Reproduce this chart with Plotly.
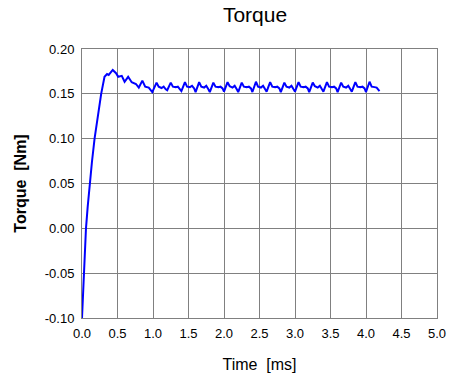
import plotly.graph_objects as go

time_ms = [
    0.000, 0.023, 0.056, 0.080, 0.107, 0.140, 0.177, 0.220, 0.270, 0.317, 0.353, 0.376,
    0.433, 0.48, 0.51, 0.56, 0.60, 0.65, 0.70, 0.76, 0.80, 0.85, 0.89, 0.94, 0.99,
    1.05, 1.08, 1.12, 1.15, 1.18, 1.20,
    1.25, 1.28, 1.32, 1.35, 1.38, 1.40,
    1.45, 1.48, 1.52, 1.55, 1.58, 1.60,
    1.65, 1.68, 1.72, 1.75, 1.78, 1.80,
    1.85, 1.88, 1.92, 1.95, 1.98, 2.00,
    2.05, 2.08, 2.12, 2.15, 2.18, 2.20,
    2.25, 2.28, 2.32, 2.35, 2.38, 2.40,
    2.45, 2.48, 2.52, 2.55, 2.58, 2.60,
    2.65, 2.68, 2.72, 2.75, 2.78, 2.80,
    2.85, 2.88, 2.92, 2.95, 2.98, 3.00,
    3.05, 3.08, 3.12, 3.15, 3.18, 3.20,
    3.25, 3.28, 3.32, 3.35, 3.38, 3.40,
    3.45, 3.48, 3.52, 3.55, 3.58, 3.60,
    3.65, 3.68, 3.72, 3.75, 3.78, 3.80,
    3.85, 3.88, 3.92, 3.95, 3.98, 4.00,
    4.05, 4.08, 4.12, 4.15, 4.19,
]

torque_nm = [
    -0.100, -0.050, 0.000, 0.024, 0.050, 0.074, 0.100, 0.125, 0.150, 0.169, 0.172, 0.171,
    0.1766, 0.173, 0.169, 0.170, 0.1635, 0.169, 0.163, 0.161, 0.157, 0.1647, 0.158, 0.157, 0.152,
    0.1625, 0.158, 0.1565, 0.158, 0.155, 0.154,
    0.1625, 0.158, 0.1575, 0.158, 0.155, 0.153,
    0.163, 0.158, 0.1575, 0.159, 0.156, 0.152,
    0.163, 0.158, 0.157, 0.159, 0.155, 0.152,
    0.1625, 0.158, 0.1575, 0.158, 0.156, 0.1525,
    0.163, 0.1585, 0.157, 0.159, 0.155, 0.152,
    0.1625, 0.158, 0.1575, 0.158, 0.156, 0.152,
    0.1635, 0.158, 0.157, 0.159, 0.155, 0.1525,
    0.163, 0.158, 0.1575, 0.158, 0.156, 0.152,
    0.1625, 0.158, 0.157, 0.159, 0.155, 0.1525,
    0.163, 0.158, 0.1575, 0.158, 0.156, 0.152,
    0.1625, 0.1585, 0.157, 0.159, 0.155, 0.1525,
    0.163, 0.158, 0.1575, 0.158, 0.156, 0.152,
    0.1625, 0.158, 0.157, 0.159, 0.155, 0.1525,
    0.163, 0.158, 0.1575, 0.158, 0.156, 0.152,
    0.1635, 0.158, 0.1575, 0.157, 0.153,
]

x_ticks = [0.0, 0.5, 1.0, 1.5, 2.0, 2.5, 3.0, 3.5, 4.0, 4.5, 5.0]
y_ticks = [-0.10, -0.05, 0.00, 0.05, 0.10, 0.15, 0.20]

FONT = "Liberation Sans, Arial, sans-serif"
GRID = "#808080"

fig = go.Figure()
fig.add_trace(go.Scatter(
    x=time_ms, y=torque_nm, mode="lines",
    line=dict(color="#0000FF", width=2),
    showlegend=False, hoverinfo="skip",
))

fig.update_layout(
    width=458, height=387,
    margin=dict(l=82, r=18, t=49, b=69),
    paper_bgcolor="white", plot_bgcolor="white",
    font=dict(family=FONT, color="black", size=13),
    title=dict(text="Torque", x=255 / 458, xanchor="center", xref="container",
               y=1 - 15 / 387, yanchor="middle", yref="container",
               font=dict(size=21, family=FONT, color="black")),
)

fig.update_xaxes(
    range=[0, 5.0], tickvals=x_ticks, ticktext=[f"{v:.1f}" for v in x_ticks],
    showgrid=True, gridcolor=GRID, gridwidth=1,
    showline=True, linecolor=GRID, linewidth=1, mirror=True,
    zeroline=False, ticks="", ticklabelstandoff=3,
    tickfont=dict(size=13, family=FONT, color="black"),
    title=dict(text="Time\u00a0 [ms]", standoff=19,
               font=dict(size=16, family=FONT, color="black")),
)
fig.update_yaxes(
    range=[-0.10, 0.20], tickvals=y_ticks, ticktext=[f"{v:.2f}" for v in y_ticks],
    showgrid=True, gridcolor=GRID, gridwidth=1,
    showline=True, linecolor=GRID, linewidth=1, mirror=True,
    zeroline=False, ticks="", ticklabelstandoff=4,
    tickfont=dict(size=13, family=FONT, color="black"),
    title=dict(text="<b>Torque\u00a0 [Nm]</b>", standoff=14,
               font=dict(size=16, family=FONT, color="black")),
)

fig.write_html("out.html")
